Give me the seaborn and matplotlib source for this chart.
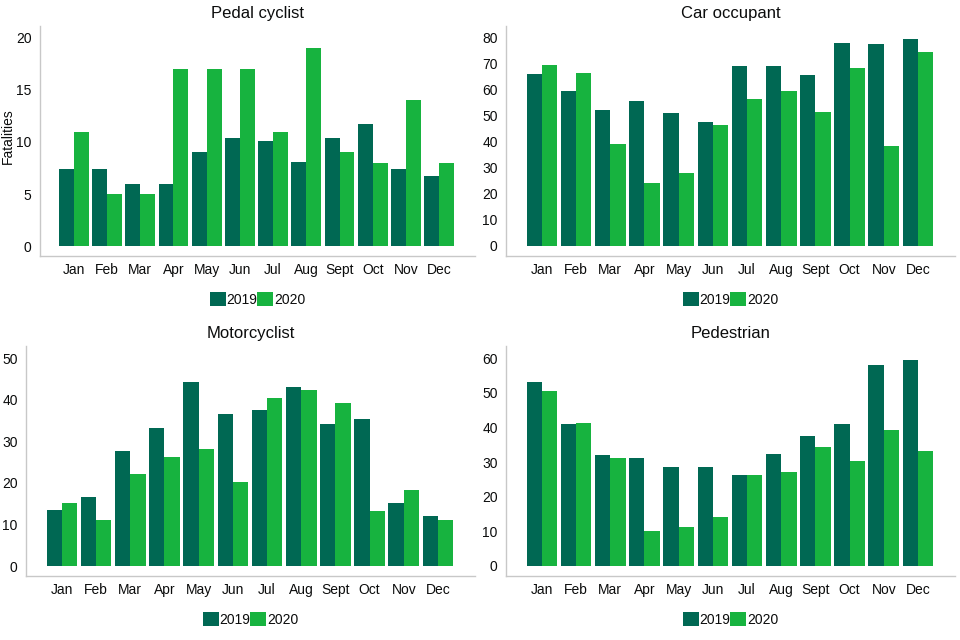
import matplotlib
matplotlib.use("Agg")
import matplotlib.pyplot as plt
import seaborn as sns
import pandas as pd

months = ["Jan", "Feb", "Mar", "Apr", "May", "Jun", "Jul", "Aug", "Sept", "Oct", "Nov", "Dec"]
years = ["2019", "2020"]

pedal_2019 = [7.4, 7.4, 6.0, 6.0, 9.0, 10.4, 10.1, 8.1, 10.4, 11.7, 7.4, 6.7]
pedal_2020 = [11, 5, 5, 17, 17, 17, 11, 19, 9, 8, 14, 8]

car_2019 = [66.2, 59.6, 52.3, 55.8, 51.2, 47.7, 69.2, 69.2, 65.8, 78.1, 77.7, 79.6]
car_2020 = [69.6, 66.5, 39.2, 24.2, 28.1, 46.5, 56.5, 59.6, 51.5, 68.5, 38.5, 74.6]

moto_2019 = [13.5, 16.6, 27.6, 33.2, 44.2, 36.5, 37.5, 43.0, 34.1, 35.3, 15.1, 12.0]
moto_2020 = [15.1, 11.1, 22.1, 26.2, 28.1, 20.2, 40.4, 42.3, 39.2, 13.2, 18.3, 11.1]

ped_2019 = [53.1, 41.0, 32.0, 31.2, 28.6, 28.6, 26.3, 32.3, 37.5, 41.0, 58.0, 59.4]
ped_2020 = [50.5, 41.3, 31.2, 10.1, 11.3, 14.1, 26.3, 27.1, 34.3, 30.3, 39.2, 33.2]

titles = ["Pedal cyclist", "Car occupant", "Motorcyclist", "Pedestrian"]
series = [(pedal_2019, pedal_2020), (car_2019, car_2020), (moto_2019, moto_2020), (ped_2019, ped_2020)]
yticks = [[0, 5, 10, 15, 20], list(range(0, 81, 10)), list(range(0, 51, 10)), list(range(0, 61, 10))]
ylims = [(-0.96, 21.15), (-3.85, 84.6), (-2.4, 52.9), (-2.9, 63.5)]
xlims = [(-1.02, 12.08), (-1.05, 12.08), (-1.05, 12.08), (-1.05, 12.08)]

colors = {"2019": "#006853", "2020": "#17b33f"}

sns.set_theme(style="white")
plt.rcParams["font.family"] = ["Liberation Sans", "DejaVu Sans"]
text_color = "#0b0c0c"

fig = plt.figure(figsize=(9.6, 6.4), dpi=100)
W, H = 960, 640
boxes = [(40, 26, 475, 256), (506, 26, 955, 256), (26, 346, 475, 576), (506, 346, 955, 576)]

for i in range(4):
    l, t, r, b = boxes[i]
    ax = fig.add_axes([l / W, 1 - b / H, (r - l) / W, (b - t) / H])
    s19, s20 = series[i]
    df = pd.DataFrame({
        "month": months * 2,
        "year": [years[0]] * 12 + [years[1]] * 12,
        "value": list(s19) + list(s20),
    })
    sns.barplot(data=df, x="month", y="value", hue="year", order=months,
                hue_order=years, palette=colors, width=0.9, gap=0,
                saturation=1, ax=ax, linewidth=0)
    ax.set_xlim(*xlims[i])
    ax.set_ylim(*ylims[i])
    ax.set_yticks(yticks[i])
    ax.set_title(titles[i], fontsize=12, color=text_color, pad=6)
    ax.set_xlabel("")
    if i == 0:
        ax.set_ylabel("Fatalities", fontsize=10, color=text_color)
        ax.yaxis.set_label_coords(-0.057, 0.52)
    else:
        ax.set_ylabel("")
    ax.tick_params(axis="both", length=0, labelsize=10, colors=text_color)
    ax.tick_params(axis="x", pad=5)
    ax.tick_params(axis="y", pad=6)
    for sp in ["top", "right"]:
        ax.spines[sp].set_visible(False)
    for sp in ["left", "bottom"]:
        ax.spines[sp].set_color("#c8c8c8")
        ax.spines[sp].set_linewidth(1.0)
    ax.grid(False)
    sns.move_legend(ax, "center", bbox_to_anchor=(0.5, -0.19), ncol=2,
                    frameon=False, title=None, fontsize=10,
                    handlelength=1.15, handleheight=1.15,
                    handletextpad=0.05, columnspacing=0.0)
    for txt in ax.get_legend().get_texts():
        txt.set_color(text_color)

fig.savefig("out.png", dpi=100, facecolor="white")
